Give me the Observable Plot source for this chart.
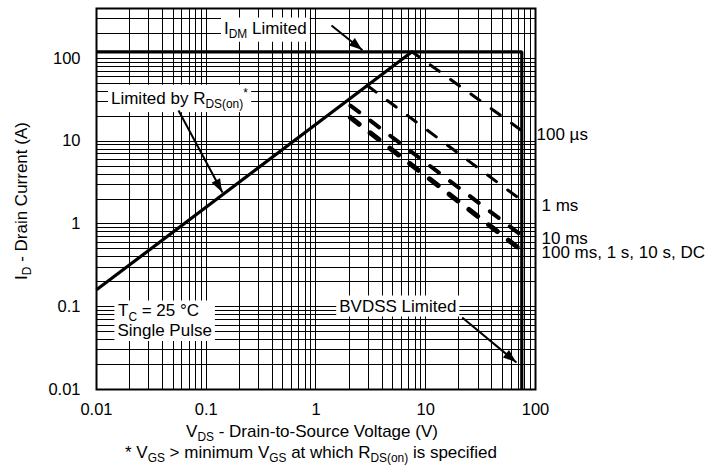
<!DOCTYPE html>
<html>
<head>
<meta charset="utf-8">
<script src="https://cdn.jsdelivr.net/npm/d3@7"></script>
<script src="https://cdn.jsdelivr.net/npm/@observablehq/plot@0.6"></script>
<style>
  body { margin: 0; background: #fff; }
  #chart svg text, #chart svg tspan { white-space: pre; }
</style>
</head>
<body>
<div id="chart"></div>
<script>
// ---------- data ----------
const xTicks = [0.01, 0.1, 1, 10, 100];
const xTickLabels = ["0.01", "0.1", "1", "10", "100"];
const yTicks = [0.01, 0.1, 1, 10, 100];
const yTickLabels = ["0.01", "0.1", "1", "10", "100"];

// R_DS(on) limit line (V, A)
const rdsV = [0.01, 7.5];
const rdsI = [0.16, 120];
// I_DM limit then BVDSS limit (V, A)
const limitV = [0.01, 75, 75];
const limitI = [120, 120, 0.01];

// single-pulse SOA curves (start and end points)
const curveNames = ["100 µs", "1 ms", "10 ms", "100 ms, 1 s, 10 s, DC"];
const curveStartV = [7.5, 2.93, 2.06, 2.06];
const curveStartI = [120, 46.9, 26.9, 19.3];
const curveEndV = [75, 75, 75, 75];
const curveEndI = [13.4, 1.92, 0.724, 0.477];
const curveLabelI = [10.2, 1.45, 0.58, 0.393];

// annotations (data coordinates of text start / baseline)
const annText = ["I_{DM} Limited", "Limited by R_{DS(on)}^{*}", "T_{C} = 25 °C", "Single Pulse", "BVDSS Limited"];
const annV = [0.1451, 0.01355, 0.0157, 0.0155, 1.627];
const annI = [199.5, 28.2, 0.0762, 0.0443, 0.0875];
const annBox = [0, 1, 2, 2, 3];

// arrows
const arrowFromV = [1.384, 0.0559, 21.48];
const arrowFromI = [249.2, 23.44, 0.0741];
const arrowToV = [2.652, 0.1406, 67.1];
const arrowToI = [125, 2.396, 0.0212];

const xTitle = "V_{DS} - Drain-to-Source Voltage (V)";
const yTitle = "I_{D} - Drain Current (A)";
const footnote = "* V_{GS} > minimum V_{GS} at which R_{DS(on)} is specified";

// ---------- build tables ----------
const gridX = [0.01, 0.1, 1, 10].flatMap(d => [1,2,3,4,5,6,7,8,9].map(m => +(m * d).toPrecision(3))).concat([100]);
const gridY = [0.01, 0.1, 1, 10].flatMap(d => [1,2,3,4,5,6,7,8,9].map(m => +(m * d).toPrecision(3))).concat([100, 200, 300, 400]);

const rds = rdsV.map((v, i) => ({V: v, I: rdsI[i]}));
const limit = limitV.map((v, i) => ({V: v, I: limitI[i]}));
const curves = curveNames.map((n, i) => [
  {V: curveStartV[i], I: curveStartI[i]},
  {V: curveEndV[i], I: curveEndI[i]}
]);
const labels = curveNames.map((n, i) => ({name: n, I: curveLabelI[i]}));
const annotations = annText.map((t, i) => ({text: t, V: annV[i], I: annI[i], box: annBox[i]}));
const arrows = arrowFromV.map((v, i) => ({x1: v, y1: arrowFromI[i], x2: arrowToV[i], y2: arrowToI[i]}));

const FONT = "'Liberation Sans', Arial, Helvetica, sans-serif";
const curveWidth = [3, 3, 4, 5];
const curveOffset = [2.5, 0, 0, 0];

const plot = Plot.plot({
  width: 711,
  height: 466,
  marginTop: 8,
  marginLeft: 96,
  marginRight: 176,
  marginBottom: 77,
  style: {fontFamily: FONT, fontSize: "16.5px", color: "#000", background: "#fff", overflow: "visible"},
  x: {type: "log", domain: [0.01, 100], ticks: xTicks,
      tickFormat: d => xTickLabels[xTicks.indexOf(d)], tickSize: 0, tickPadding: 14, label: null},
  y: {type: "log", domain: [0.01, 400], ticks: yTicks,
      tickFormat: d => yTickLabels[yTicks.indexOf(d)], tickSize: 0, tickPadding: 16, label: null},
  marks: [
    Plot.ruleX(gridX, {stroke: "#000", strokeWidth: 1}),
    Plot.ruleY(gridY, {stroke: "#000", strokeWidth: 1}),
    Plot.text(annotations, {x: "V", y: "I", text: "text", textAnchor: "start", lineAnchor: "bottom",
      fontSize: 17, fill: "#000"}),
    Plot.line(rds, {x: "V", y: "I", stroke: "#000", strokeWidth: 3.2, strokeLinecap: "butt"}),
    Plot.line(limit, {x: "V", y: "I", stroke: "#000", strokeWidth: 3.2, strokeLinecap: "butt", strokeLinejoin: "miter"}),
    ...curves.map((c, i) => Plot.line(c, {x: "V", y: "I", stroke: "#000", strokeWidth: curveWidth[i],
      strokeDasharray: "11,14", strokeDashoffset: curveOffset[i], strokeLinecap: "round"})),
    Plot.text(labels.slice(0, 1), {y: "I", text: "name", frameAnchor: "right", textAnchor: "start",
      lineAnchor: "bottom", dx: 1, fontSize: 17, fill: "#000"}),
    Plot.text(labels.slice(1), {y: "I", text: "name", frameAnchor: "right", textAnchor: "start",
      lineAnchor: "bottom", dx: 6, fontSize: 17, fill: "#000"}),
    Plot.link(arrows, {x1: "x1", y1: "y1", x2: "x2", y2: "y2", stroke: "#000", strokeWidth: 2}),
    Plot.frame({stroke: "#000", strokeWidth: 2})
  ]
});

document.getElementById("chart").append(plot);
const svg = plot.tagName.toLowerCase() === "svg" ? plot : plot.querySelector("svg");
const NS = "http://www.w3.org/2000/svg";

// crisp 1px grid lines: snap rule positions to whole pixels
svg.querySelectorAll("line").forEach(l => {
  const x1 = l.getAttribute("x1"), x2 = l.getAttribute("x2");
  const y1 = l.getAttribute("y1"), y2 = l.getAttribute("y2");
  if (x1 !== null && x1 === x2) { const r = Math.round(+x1); l.setAttribute("x1", r); l.setAttribute("x2", r); }
  if (y1 !== null && y1 === y2) { const r = Math.round(+y1); l.setAttribute("y1", r); l.setAttribute("y2", r); }
});

function richify(el, str, base) {
  const segs = [];
  const re = /([_^])\{([^}]*)\}/g;
  let last = 0, m;
  while ((m = re.exec(str))) {
    if (m.index > last) segs.push({t: str.slice(last, m.index), k: 0});
    segs.push({t: m[2], k: m[1] === "_" ? 1 : -1});
    last = re.lastIndex;
  }
  if (last < str.length) segs.push({t: str.slice(last), k: 0});
  while (el.firstChild) el.removeChild(el.firstChild);
  let cur = 0;
  for (const s of segs) {
    const target = s.k === 1 ? 0.25 * base : s.k === -1 ? -0.42 * base : 0;
    const ts = document.createElementNS(NS, "tspan");
    ts.setAttribute("dy", (target - cur).toFixed(2));
    if (s.k) ts.setAttribute("font-size", (0.7 * base).toFixed(2));
    ts.textContent = s.t;
    el.appendChild(ts);
    cur = target;
  }
}

// find annotation texts (before rich-text conversion)
const annEls = [];
svg.querySelectorAll("text").forEach(el => {
  const idx = annText.indexOf(el.textContent);
  if (idx >= 0) annEls.push({el, box: annBox[idx]});
});

// rich text in Plot text marks
svg.querySelectorAll("text").forEach(el => {
  const s = el.textContent;
  if (/[_^]\{/.test(s)) richify(el, s, parseFloat(getComputedStyle(el).fontSize));
});

// white boxes behind annotations
if (annEls.length) {
  const svgRect = svg.getBoundingClientRect();
  const boxes = new Map();
  annEls.forEach(({el, box}) => {
    const r = el.getBoundingClientRect();
    const nb = {x0: r.left - svgRect.left, y0: r.top - svgRect.top, x1: r.right - svgRect.left, y1: r.bottom - svgRect.top};
    const b = boxes.get(box);
    if (!b) boxes.set(box, nb);
    else boxes.set(box, {x0: Math.min(b.x0, nb.x0), y0: Math.min(b.y0, nb.y0), x1: Math.max(b.x1, nb.x1), y1: Math.max(b.y1, nb.y1)});
  });
  const g = document.createElementNS(NS, "g");
  for (const b of boxes.values()) {
    const r = document.createElementNS(NS, "rect");
    r.setAttribute("x", b.x0 - 3);
    r.setAttribute("y", b.y0 - 1);
    r.setAttribute("width", b.x1 - b.x0 + 6);
    r.setAttribute("height", b.y1 - b.y0 + 2);
    r.setAttribute("fill", "#fff");
    g.appendChild(r);
  }
  // put the boxes just beneath the annotation text group
  let annG = annEls[0].el.parentNode;
  while (annG.parentNode && annG.parentNode !== svg) annG = annG.parentNode;
  svg.insertBefore(g, annG);
}

// filled arrowheads using the plot's scales
const sx = plot.scale("x"), sy = plot.scale("y");
const headG = document.createElementNS(NS, "g");
arrows.forEach(a => {
  const x1 = sx.apply(a.x1), y1 = sy.apply(a.y1), x2 = sx.apply(a.x2), y2 = sy.apply(a.y2);
  const dx = x2 - x1, dy = y2 - y1, len = Math.hypot(dx, dy);
  const ux = dx / len, uy = dy / len, nx = -uy, ny = ux;
  const L = 13, W = 4.8;
  const p = [[x2, y2], [x2 - L * ux + W * nx, y2 - L * uy + W * ny], [x2 - L * ux - W * nx, y2 - L * uy - W * ny]];
  const poly = document.createElementNS(NS, "polygon");
  poly.setAttribute("points", p.map(q => q.join(",")).join(" "));
  poly.setAttribute("fill", "#000");
  headG.appendChild(poly);
});
svg.appendChild(headG);

// axis titles and footnote
function addTitle(str, x, y, rotate) {
  const t = document.createElementNS(NS, "text");
  t.setAttribute("transform", `translate(${x},${y})` + (rotate ? ` rotate(${rotate})` : ""));
  t.setAttribute("text-anchor", "middle");
  t.setAttribute("font-size", "17");
  t.setAttribute("fill", "#000");
  t.setAttribute("font-family", FONT);
  svg.appendChild(t);
  richify(t, str, 17);
}
addTitle(xTitle, 312, 437, 0);
addTitle(footnote, 311, 458, 0);
addTitle(yTitle, 27, 201, -90);
</script>
</body>
</html>
